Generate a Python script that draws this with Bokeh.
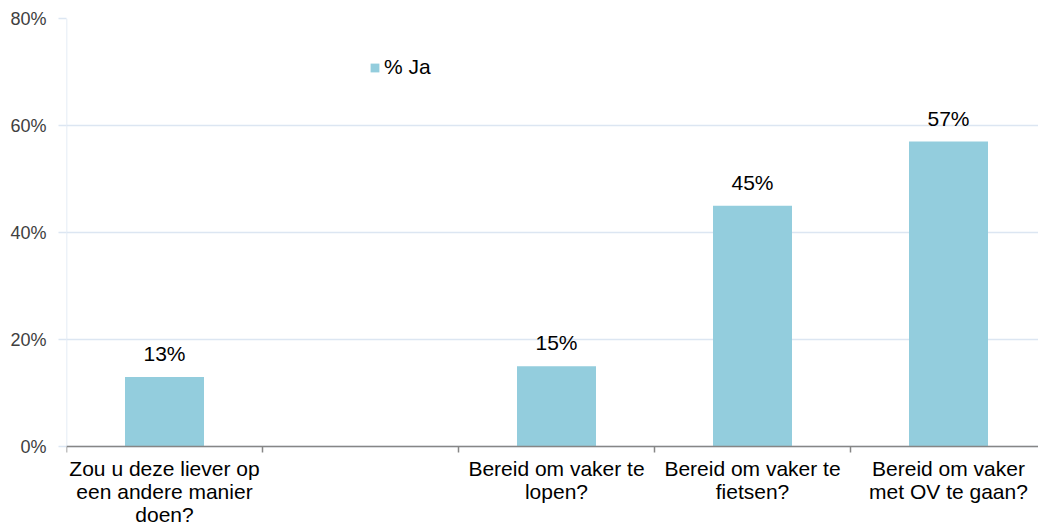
import math
from bokeh.plotting import figure
from bokeh.models import (ColumnDataSource, Range1d, FixedTicker, PrintfTickFormatter,
                          Legend, LegendItem, Span)
from bokeh.core.properties import value
from bokeh.embed import file_html
from bokeh.resources import INLINE

categories = ["Zou u deze liever op\neen andere manier\ndoen?", "",
              "Bereid om vaker te\nlopen?", "Bereid om vaker te\nfietsen?",
              "Bereid om vaker\nmet OV te gaan?"]
values_ja = [13, None, 15, 45, 57]
y_ticks = [0, 20, 40, 60, 80]
series_name = "% Ja"

FONT = "Liberation Sans"
BAR = "#93cddd"
GRID = "#dce6f2"
AXIS = "#868686"

# layout (pixels)
W, H = 1038, 529
TOP, LEFT = 18, 66
PLOT_H = 428          # height of the 0..80 value area
SLOT = 196            # pixels per category slot
px_per_unit = PLOT_H / (max(y_ticks) - min(y_ticks))
y_start = -(H - TOP - PLOT_H) / px_per_unit

xs, tops, labels = [], [], []
for i, v in enumerate(values_ja):
    if v is not None:
        xs.append(i + 0.5)
        tops.append(v)
        labels.append(f"{v}%")
src = ColumnDataSource(dict(x=xs, top=tops, label=labels))
cat_src = ColumnDataSource(dict(x=[i + 0.5 for i in range(len(categories))],
                                y=[0] * len(categories), text=categories))
bnd = list(range(len(categories) + 1))
tick_src = ColumnDataSource(dict(x=bnd, y=[0] * len(bnd)))

p = figure(width=W, height=H, output_backend="svg", toolbar_location=None,
           x_range=Range1d(0, (W - LEFT) / SLOT), y_range=Range1d(y_start, max(y_ticks)),
           x_axis_location=None,
           min_border_left=LEFT, min_border_right=0, min_border_top=TOP, min_border_bottom=0)
p.outline_line_color = None
p.background_fill_color = "white"

p.xgrid.grid_line_color = None
p.ygrid.grid_line_color = GRID
p.ygrid.grid_line_width = 1.5
p.ygrid.ticker = FixedTicker(ticks=y_ticks)

# value axis line (only over the 0..80 span)
p.segment(x0=[0], y0=[min(y_ticks)], x1=[0], y1=[max(y_ticks)], line_color=GRID, line_width=1.5)

r = p.vbar(x="x", top="top", width=0.403, source=src, fill_color=BAR, line_color=None)
p.text(x="x", y="top", text="label", source=src, text_align="center", text_baseline="bottom",
       y_offset=-12, text_font=value(FONT), text_font_size="21px", text_color="#000000")

# category axis: baseline, boundary ticks, labels
p.add_layout(Span(location=0, dimension="width", line_color=AXIS, line_width=1.5))
p.ray(x="x", y="y", source=tick_src, length=6, length_units="screen", angle=-math.pi / 2,
      line_color=AXIS, line_width=1.5)
p.text(x="x", y="y", text="text", source=cat_src, text_align="center", text_baseline="top",
       y_offset=10, text_font=value(FONT), text_font_size="21px", text_line_height=1.02,
       text_color="#000000")

# y axis labels
p.yaxis.ticker = FixedTicker(ticks=y_ticks)
p.yaxis.formatter = PrintfTickFormatter(format="%d%%")
p.yaxis.axis_line_color = None
p.yaxis.major_tick_out = 8
p.yaxis.major_tick_in = 0
p.yaxis.major_tick_line_color = GRID
p.yaxis.major_tick_line_width = 1.5
p.yaxis.minor_tick_line_color = None
p.yaxis.major_label_text_font = FONT
p.yaxis.major_label_text_font_size = "18px"
p.yaxis.major_label_text_color = "#404040"
p.yaxis.major_label_standoff = 12

legend = Legend(items=[LegendItem(label=series_name, renderers=[r])],
                location=(303, 450), orientation="vertical",
                glyph_width=11, glyph_height=11, label_standoff=4,
                padding=0, margin=0, spacing=0,
                border_line_color=None, background_fill_alpha=0,
                label_text_font=FONT, label_text_font_size="21px", label_text_color="#000000")
p.add_layout(legend, "center")

open("out.html", "w").write(file_html(p, INLINE))
